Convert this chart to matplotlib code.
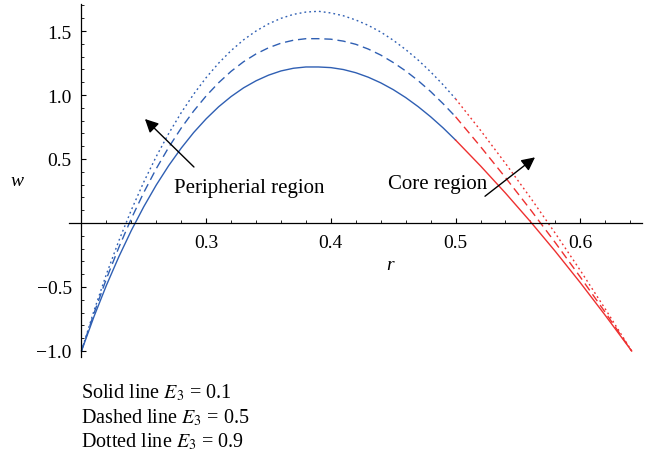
import numpy as np
import matplotlib
matplotlib.use('Agg')
import matplotlib.pyplot as plt
from matplotlib.ticker import MultipleLocator, FixedLocator

plt.rcParams['font.family'] = ['Liberation Serif', 'DejaVu Serif']
plt.rcParams['mathtext.fontset'] = 'stix'

# peripheral region (blue), r <= 0.5
r_per = [0.20, 0.21, 0.22, 0.23, 0.24, 0.25, 0.26, 0.27, 0.28, 0.29, 0.30,
         0.31, 0.32, 0.33, 0.34, 0.35, 0.36, 0.37, 0.38, 0.39, 0.40,
         0.41, 0.42, 0.43, 0.44, 0.45, 0.46, 0.47, 0.48, 0.49, 0.50]
w_per_solid = [-1.0, -0.732, -0.487, -0.263, -0.058, 0.128, 0.297, 0.449, 0.585, 0.707, 0.814,
               0.908, 0.988, 1.056, 1.111, 1.155, 1.188, 1.209, 1.219, 1.219, 1.214,
               1.199, 1.174, 1.139, 1.095, 1.042, 0.980, 0.909, 0.830, 0.743, 0.648]
w_per_dashed = [-1.0, -0.706, -0.436, -0.190, 0.035, 0.239, 0.425, 0.592, 0.742, 0.875, 0.993,
                1.096, 1.185, 1.260, 1.321, 1.369, 1.405, 1.428, 1.440, 1.440, 1.436,
                1.421, 1.396, 1.359, 1.312, 1.254, 1.188, 1.112, 1.027, 0.932, 0.830]
w_per_dotted = [-1.0, -0.687, -0.400, -0.138, 0.102, 0.321, 0.520, 0.700, 0.862, 1.007, 1.136,
                1.249, 1.347, 1.431, 1.500, 1.556, 1.599, 1.630, 1.648, 1.654, 1.641,
                1.619, 1.586, 1.544, 1.492, 1.428, 1.355, 1.273, 1.181, 1.080, 0.970]

# core region (red), r >= 0.5
r_core = [0.50, 0.52, 0.54, 0.56, 0.58, 0.60, 0.62, 0.6412]
w_core_solid = [0.648, 0.446, 0.234, 0.011, -0.222, -0.466, -0.721, -1.0]
w_core_dashed = [0.830, 0.597, 0.355, 0.105, -0.154, -0.422, -0.698, -1.0]
w_core_dotted = [0.970, 0.724, 0.466, 0.198, -0.081, -0.370, -0.671, -1.0]

legend_lines = ['Solid line $E_3$ = 0.1', 'Dashed line $E_3$ = 0.5', 'Dotted line $E_3$ = 0.9']

blue = '#2f5fb3'
red = '#ee3030'

fig = plt.figure(figsize=(6.49, 4.60), dpi=100)
ax = fig.add_axes([69/649, 1-358/460, 573/649, 353/460])

styles = [(w_per_solid, w_core_solid, '-'),
          (w_per_dashed, w_core_dashed, (0, (6, 3.5))),
          (w_per_dotted, w_core_dotted, (0, (1.3, 2.2)))]
for wp, wc, ls in styles:
    ax.plot(r_per, wp, color=blue, lw=1.0, ls=ls)
    ax.plot(r_core, wc, color=red, lw=1.0, ls=ls)

ax.set_xlim(0.19, 0.6495)
ax.set_ylim(-1.047, 1.711)

for s in ['top', 'right']:
    ax.spines[s].set_visible(False)
ax.spines['left'].set_position(('data', 0.2))
ax.spines['bottom'].set_position(('data', 0))
ax.spines['left'].set_linewidth(0.9)
ax.spines['bottom'].set_linewidth(0.9)

ax.xaxis.set_major_locator(FixedLocator([0.3, 0.4, 0.5, 0.6]))
ax.xaxis.set_minor_locator(MultipleLocator(0.02))
ax.yaxis.set_major_locator(FixedLocator([-1.0, -0.5, 0.5, 1.0, 1.5]))
ax.yaxis.set_minor_locator(MultipleLocator(0.1))
ax.set_xticklabels(['0.3', '0.4', '0.5', '0.6'])
ax.set_yticklabels(['\u22121.0', '\u22120.5', '0.5', '1.0', '1.5'])
ax.tick_params(axis='x', which='major', direction='in', length=3.5, width=0.8, pad=8, labelsize=14)
ax.tick_params(axis='y', which='major', direction='in', length=3.5, width=0.8, pad=7, labelsize=14)
ax.tick_params(which='minor', direction='in', length=2, width=0.6)

fig.text(17/649, 1-182/460, 'w', style='italic', fontsize=14, ha='center', va='center')
fig.text(390/649, 1-266/460, 'r', style='italic', fontsize=14, ha='center', va='center')

arrow = dict(arrowstyle='-|>', mutation_scale=20, color='black', lw=1.0, shrinkA=0, shrinkB=0)
ax.annotate('', xy=(0.2509, 0.8125), xytext=(0.2902, 0.4375), arrowprops=arrow)
ax.annotate('', xy=(0.5637, 0.513), xytext=(0.5236, 0.209), arrowprops=arrow)
fig.text(249/649, 1-189/460, 'Peripherial region', fontsize=15, ha='center', va='center')
fig.text(438/649, 1-185/460, 'Core region', fontsize=15, ha='center', va='center')

for i, t in enumerate(legend_lines):
    fig.text(81/649, 1-(393 + 24.5*i)/460, t, fontsize=14.5, ha='left', va='center')

fig.savefig('out.png', dpi=100)
